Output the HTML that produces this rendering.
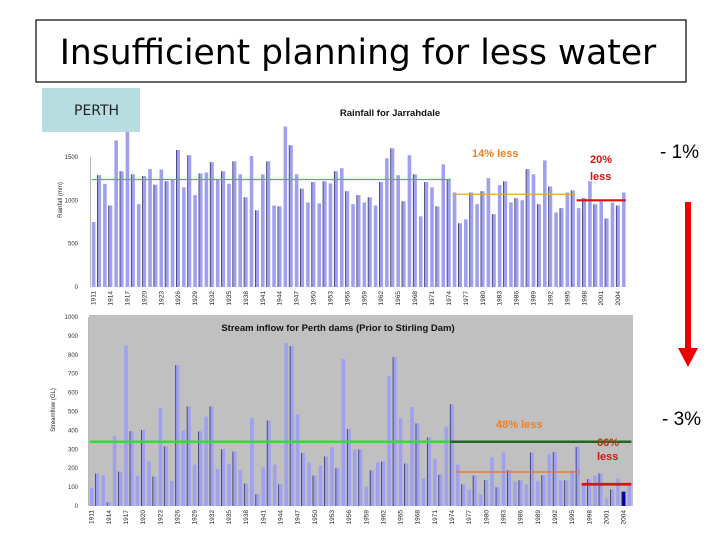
<!DOCTYPE html>
<html><head><meta charset="utf-8"><style>
body{margin:0;background:#fff;width:720px;height:540px;overflow:hidden;font-family:"Liberation Sans",sans-serif}
svg{position:absolute;left:0;top:0}
</style></head><body>
<svg id="s" width="720" height="540" xmlns="http://www.w3.org/2000/svg">
<rect x="36" y="20" width="650" height="62" fill="#fff" stroke="#000" stroke-width="1.2"/>
<text x="358" y="64" text-anchor="middle" font-family="DejaVu Sans, sans-serif" font-size="34.5" fill="#000">Insufficient planning for less water</text>
<rect x="42" y="88" width="98" height="44" fill="#b8dde0"/>
<text x="74" y="115" font-family="DejaVu Sans, sans-serif" font-size="14" fill="#222">PERTH</text>
<rect x="89" y="315" width="544" height="191" fill="#c0c0c0"/>
<text x="390" y="116" text-anchor="middle" font-size="9.5" font-weight="bold" fill="#111">Rainfall for Jarrahdale</text>
<text x="338" y="331" text-anchor="middle" font-size="9.5" font-weight="bold" fill="#111">Stream inflow for Perth dams  (Prior to Stirling Dam)</text>
<text transform="translate(62,200) rotate(-90)" text-anchor="middle" font-size="6" fill="#222">Rainfall (mm)</text>
<text transform="translate(55,410) rotate(-90)" text-anchor="middle" font-size="6" fill="#222">Streamflow (GL)</text>
<g id="g1"></g><g id="g2"></g>
<text x="472" y="157" font-size="11" font-weight="bold" fill="#f08020">14% less</text>
<text x="590" y="163" font-size="11" font-weight="bold" fill="#dd1111">20%</text>
<text x="590" y="180" font-size="11" font-weight="bold" fill="#dd1111">less</text>
<text x="496" y="428" font-size="11" font-weight="bold" fill="#f08020">48% less</text>
<text x="597" y="446" font-size="11" font-weight="bold" fill="#a04010">66%</text>
<text x="597" y="460" font-size="11" font-weight="bold" fill="#dd1111">less</text>
<text x="660" y="158" font-size="19" fill="#000">- 1%</text>
<text x="662" y="425" font-size="19" fill="#000">- 3%</text>
<rect x="685" y="202" width="6" height="148" fill="#ee0000"/>
<polygon points="678,348 698,348 688,367" fill="#ee0000"/>
</svg>
<script>
const years=[];for(let y=1911;y<=2005;y++)years.push(y);
const rainfall=[750,1290,1190,940,1690,1335,1790,1300,955,1280,1360,1180,1355,1220,1240,1580,1150,1520,1060,1310,1320,1440,1240,1335,1190,1450,1300,1035,1510,885,1300,1450,940,930,1850,1635,1300,1135,975,1210,965,1220,1195,1335,1370,1105,955,1060,975,1035,940,1210,1485,1600,1290,990,1520,1300,815,1210,1150,930,1415,1240,1090,735,780,1090,955,1105,1255,840,1175,1220,975,1025,1000,1360,1300,955,1460,1160,860,910,1090,1115,910,1025,1220,955,990,790,975,940,1090];
const inflow=[97,172,163,20,370,182,848,396,161,402,235,156,519,315,133,745,400,527,219,395,473,527,195,301,223,288,191,119,465,62,204,453,219,115,862,846,487,281,230,161,214,262,310,200,777,407,299,299,104,189,230,235,688,788,464,225,524,437,147,363,250,166,421,538,219,115,87,161,62,138,257,99,283,189,129,136,115,283,131,163,273,285,136,136,189,313,115,143,161,172,41,88,147,76,115];
const rainTicks=[0,500,1000,1500];
const inflowTicks=[0,100,200,300,400,500,600,700,800,900,1000];
const rainRefs=[[1911,1974,1240,'#33cc33',1.3],[1975,1996,1070,'#f0a040',1.3],[1997,2005,1000,'#dd1111',2.2]];
const inflowRefs=[[1911,1974,340,'#33dd33',2.5],[1974,2005,340,'#226622',2.5],[1975,1996,180,'#f07020',1.2],[1997,2005,115,'#dd1111',2.8]];
const NS='http://www.w3.org/2000/svg';
function mk(p,t,a){const e=document.createElementNS(NS,t);for(const k in a)e.setAttribute(k,a[k]);p.appendChild(e);return e;}
function draw(g,vals,ticks,refs,x0,step,y0,ppu,labY,darkYear){
 const X=y=>x0+(y-1911)*step, Y=v=>y0-v*ppu;
 ticks.forEach(t=>{const e=mk(g,'text',{x:78,y:Y(t)+2,'text-anchor':'end','font-size':6,fill:'#333'});e.textContent=t;
 
 });
 const ax=mk(g,'line',{x1:x0-3,x2:x0-3,y1:y0,y2:Y(ticks[ticks.length-1]),stroke:'#888','stroke-width':0.6});
 
 
 vals.forEach((v,i)=>{const yr=years[i];const c=X(yr);
  const r=mk(g,'rect',{x:c-1.8,y:Y(v),width:3.6,height:v*ppu,fill:yr===darkYear?'#0000aa':'#a0a0f0'});
  
  
  if(i%2===1){const l=mk(g,'line',{x1:c-1.8,x2:c-1.8,y1:Y(v),y2:y0,stroke:'#333366','stroke-width':0.8});
  
  }
  if(i%3===0){const t=mk(g,'text',{transform:`translate(${c+2},${labY}) rotate(-90)`,'text-anchor':'end','font-size':6.5,fill:'#222'});t.textContent=yr;
  
  }
 });
 refs.forEach(r=>{const l=mk(g,'line',{x1:X(r[0])-2,x2:X(r[1])+2,y1:Y(r[2]),y2:Y(r[2]),stroke:r[3],'stroke-width':r[4]});
 
 });
}
draw(document.getElementById('g1'),rainfall,rainTicks,rainRefs,93.6,5.64,287,0.0867,291,null);
draw(document.getElementById('g2'),inflow,inflowTicks,inflowRefs,91.7,5.72,506,0.189,510,2004);
</script>
</body></html>
